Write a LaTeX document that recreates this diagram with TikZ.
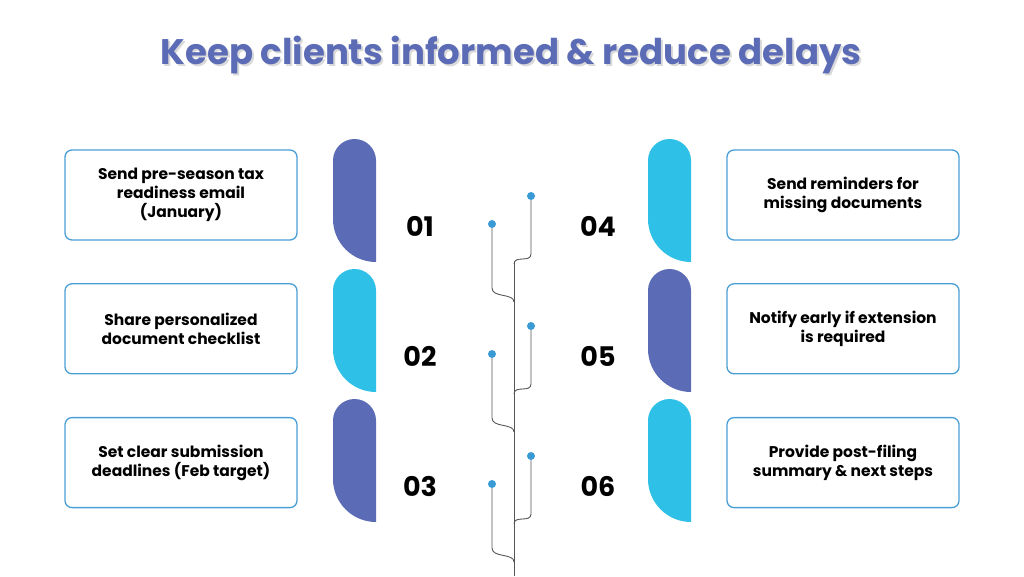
\documentclass[tikz,border=0pt]{standalone}
\usepackage{fontspec}
\setmainfont{Poppins}
\usetikzlibrary{positioning}
\definecolor{tabpurple}{HTML}{5B6BB5}
\definecolor{tabcyan}{HTML}{2EC0E6}
\definecolor{boxline}{HTML}{4A9ED6}
\definecolor{stem}{HTML}{555555}
\definecolor{dotblue}{HTML}{3A9AD4}
\newcommand{\tabshape}[3]{%
  \fill[#3] (#1+43,#2) -- (#1+43,#2+101.5) arc (0:180:21.5) -- (#1,#2+43) arc (180:270:43) -- cycle;}
\tikzset{
  step box/.style={draw=boxline, line width=1.3pt, rounded corners=7pt, minimum width=232pt,
    minimum height=90pt, align=center, font=\bfseries\fontsize{15.5}{19}\selectfont, inner sep=2pt},
  step num/.style={font=\bfseries\fontsize{27}{30}\selectfont},
  dot/.style={circle, fill=dotblue, inner sep=0pt, minimum size=8pt},
  stem line/.style={draw=stem, line width=0.9pt},
  title font/.style={font=\bfseries\fontsize{35.5}{38}\selectfont}
}
\begin{document}
\begin{tikzpicture}[x=1pt,y=1pt]
  \useasboundingbox (0,0) rectangle (1024,576);
  % title
  \node[text=black!15, title font] at (513,519) {Keep clients informed \& reduce delays};
  \node (title) [text=tabpurple, title font] at (511,521) {Keep clients informed \& reduce delays};
  % tabs
  \tabshape{333}{314}{tabpurple}
  \tabshape{333}{184}{tabcyan}
  \tabshape{333}{54}{tabpurple}
  \tabshape{648}{314}{tabcyan}
  \tabshape{648}{184}{tabpurple}
  \tabshape{648}{54}{tabcyan}
  % boxes
  \node (b1) [step box] at (181,381) {Send pre-season tax\\readiness email\\(January)};
  \node (b2) [step box, below=42.5pt of b1] {Share personalized\\document checklist};
  \node (b3) [step box, below=42.5pt of b2] {Set clear submission\\deadlines (Feb target)};
  \node (b4) [step box] at (843,381) {Send reminders for\\missing documents};
  \node (b5) [step box, below=42.5pt of b4] {Notify early if extension\\is required};
  \node (b6) [step box, below=42.5pt of b5] {Provide post-filing\\summary \& next steps};
  % numbers
  \node (n1) [step num] at (420,350) {01};
  \node (n2) [step num] at (420,220) {02};
  \node (n3) [step num] at (420,90) {03};
  \node (n4) [step num] at (598,350) {04};
  \node (n5) [step num] at (598,220) {05};
  \node (n6) [step num] at (598,90) {06};
  % tree
  \coordinate (top) at (514,314);
  \coordinate (bottom) at (514,0);
  \draw[stem line] (top) -- (bottom);
  \foreach \i/\y in {1/352,2/222,3/92} {
    \node (l\i) [dot] at (492,\y) {};
    \draw[stem line] (l\i) -- ++(0,-64) .. controls +(0,-10) and +(0,9) .. ++(22,-14);
  }
  \foreach \i/\y in {4/380,5/250,6/120} {
    \node (r\i) [dot] at (531,\y) {};
    \draw[stem line] (r\i) -- ++(0,-58) .. controls +(0,-9) and +(0,9) .. ++(-17,-10);
  }
\end{tikzpicture}
\end{document}
